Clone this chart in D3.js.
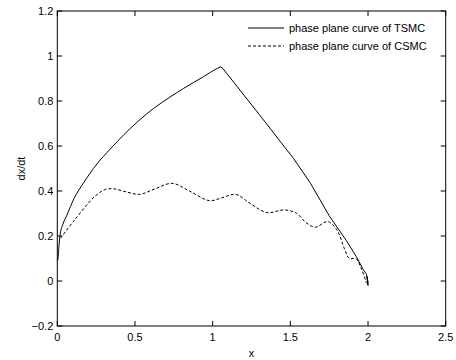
<!DOCTYPE html>
<html><head><meta charset="utf-8">
<script src="https://cdn.jsdelivr.net/npm/d3@7"></script>
<style>body{margin:0;background:#fff}svg{display:block}text{font-family:"Liberation Sans",Arial,sans-serif;font-size:11px;fill:#000}</style>
</head><body><svg id="c" width="456" height="360"></svg>
<script>
const xTicks=[0,0.5,1,1.5,2,2.5];
const yTicks=[-0.2,0,0.2,0.4,0.6,0.8,1,1.2];
const tsmcUpX=[0,0.005,0.01,0.017,0.035,0.06,0.11,0.167,0.255,0.34,0.427,0.52,0.62,0.72,0.813,0.941,1.03,1.052];
const tsmcUpY=[0.09,0.1,0.15,0.2,0.25,0.29,0.37,0.434,0.52,0.586,0.649,0.71,0.767,0.815,0.856,0.908,0.945,0.952];
const tsmcDownX=[1.052,1.065,1.3,1.52,1.63,1.75,1.86,1.925,1.97,1.99,2.0,1.995,2.0];
const tsmcDownY=[0.952,0.945,0.74,0.545,0.434,0.29,0.18,0.108,0.05,0.03,-0.02,0.02,-0.01];
const csmcX=[0.02,0.11,0.24,0.31,0.36,0.45,0.53,0.63,0.74,0.85,0.98,1.06,1.15,1.24,1.35,1.46,1.54,1.6,1.66,1.74,1.8,1.85,1.88,1.92,1.96,1.99];
const csmcY=[0.19,0.27,0.375,0.407,0.41,0.395,0.385,0.41,0.434,0.4,0.357,0.37,0.385,0.345,0.304,0.316,0.301,0.26,0.239,0.264,0.227,0.14,0.1,0.1,0.05,-0.01];
const legendLabels=["phase plane curve of TSMC","phase plane curve of CSMC"];

const svg=d3.select("#c");
const L=57.3,R=445.7,T=11,B=326;
const x=d3.scaleLinear().domain([0,2.5]).range([L,R]);
const y=d3.scaleLinear().domain([-0.2,1.2]).range([B,T]);
const tl=5;
const g=svg.append("g");
xTicks.forEach(v=>{
  g.append("line").attr("x1",x(v)).attr("x2",x(v)).attr("y1",B).attr("y2",B-tl).attr("stroke","#000");
  g.append("line").attr("x1",x(v)).attr("x2",x(v)).attr("y1",T).attr("y2",T+tl).attr("stroke","#000");
  g.append("text").attr("x",x(v)).attr("y",B+15).attr("text-anchor","middle").text(d3.format("")(v));
});
yTicks.forEach(v=>{
  g.append("line").attr("x1",L).attr("x2",L+tl).attr("y1",y(v)).attr("y2",y(v)).attr("stroke","#000");
  g.append("line").attr("x1",R).attr("x2",R-tl).attr("y1",y(v)).attr("y2",y(v)).attr("stroke","#000");
  g.append("text").attr("x",L-4).attr("y",y(v)+4).attr("text-anchor","end").text(d3.format("")(+v.toFixed(1)));
});
svg.append("rect").attr("x",L).attr("y",T).attr("width",R-L).attr("height",B-T).attr("fill","none").attr("stroke","#000");
const mono=d3.line().x(d=>x(d[0])).y(d=>y(d[1])).curve(d3.curveMonotoneX);
const lin=d3.line().x(d=>x(d[0])).y(d=>y(d[1]));
svg.append("path").datum(tsmcUpX.map((v,i)=>[v,tsmcUpY[i]])).attr("d",mono).attr("fill","none").attr("stroke","#000").attr("stroke-width",1);
svg.append("path").datum(tsmcDownX.map((v,i)=>[v,tsmcDownY[i]])).attr("d",lin).attr("fill","none").attr("stroke","#000").attr("stroke-width",1);
svg.append("path").datum(csmcX.map((v,i)=>[v,csmcY[i]])).attr("d",d3.line().x(d=>x(d[0])).y(d=>y(d[1])).curve(d3.curveCatmullRom.alpha(0.5))).attr("fill","none").attr("stroke","#000").attr("stroke-width",1).attr("stroke-dasharray","3,2");
legendLabels.forEach((t,i)=>{
  const yy=28+i*18;
  svg.append("line").attr("x1",248).attr("x2",284).attr("y1",yy).attr("y2",yy).attr("stroke","#000").attr("stroke-dasharray",i?"3,2":null);
  svg.append("text").attr("x",289).attr("y",yy+4).text(t);
});
svg.append("text").attr("x",(L+R)/2).attr("y",357).attr("text-anchor","middle").text("x");
svg.append("text").attr("transform","translate(25,"+((T+B)/2)+") rotate(-90)").attr("text-anchor","middle").text("dx/dt");
</script></body></html>
